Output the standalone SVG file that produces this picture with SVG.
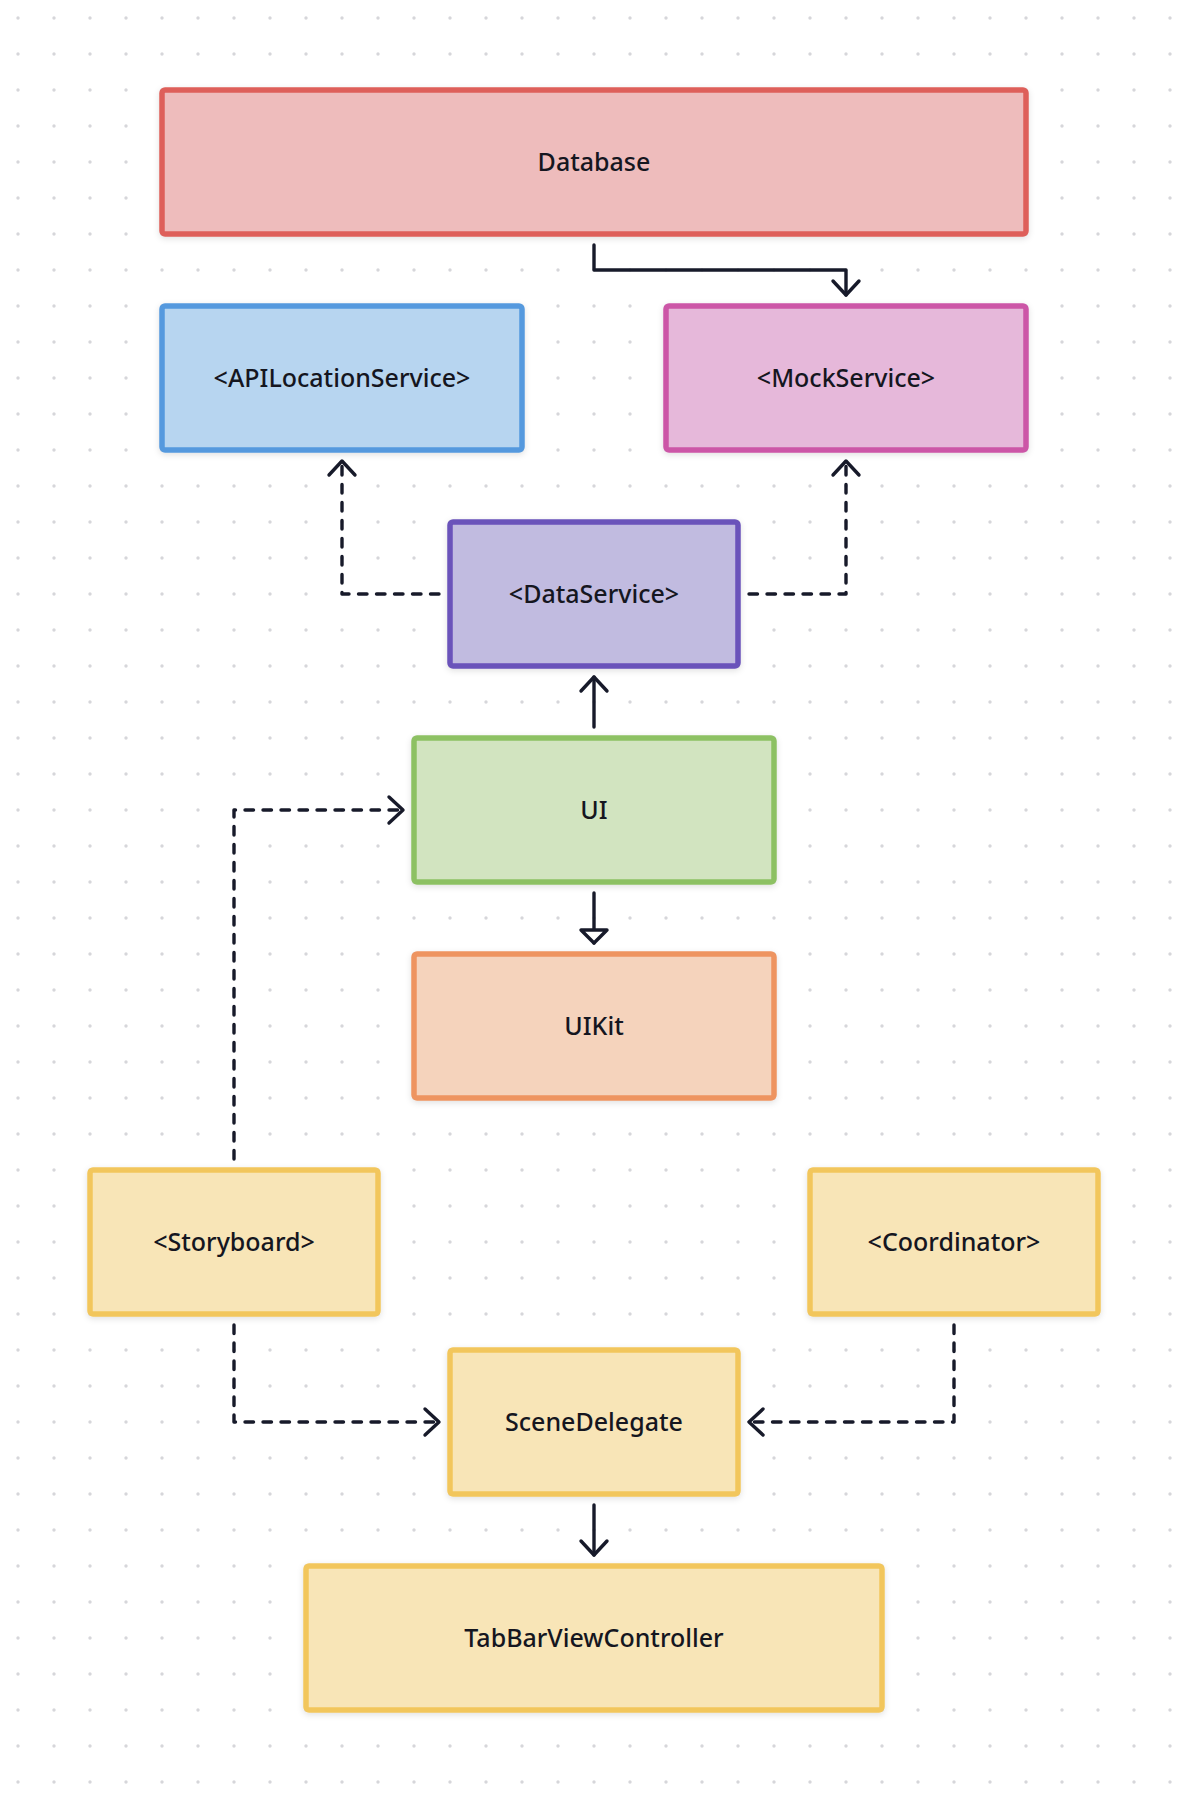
<svg xmlns="http://www.w3.org/2000/svg" width="1188" height="1800" viewBox="0 0 1188 1800">
  <defs>
    <pattern id="dots" x="0" y="0" width="36" height="36" patternUnits="userSpaceOnUse">
      <circle cx="18" cy="18" r="1.7" fill="#d6d6da"/>
    </pattern>
    <filter id="shadow" x="-10%" y="-10%" width="120%" height="130%">
      <feDropShadow dx="0" dy="2" stdDeviation="3" flood-color="#000000" flood-opacity="0.12"/>
    </filter>
    <marker id="arrow" markerUnits="userSpaceOnUse" viewBox="-20 -20 40 40" markerWidth="40" markerHeight="40" refX="0" refY="0" orient="auto" overflow="visible">
      <path d="M-14,-13 L0,0 L-14,13" fill="none" stroke="#171a2a" stroke-width="3.4" stroke-linecap="round" stroke-linejoin="round" stroke-dasharray="none"/>
    </marker>
    <marker id="triangle" markerUnits="userSpaceOnUse" viewBox="-20 -20 40 40" markerWidth="40" markerHeight="40" refX="0" refY="0" orient="auto" overflow="visible">
      <path d="M-13,-13 L0,0 L-13,13 Z" fill="#ffffff" stroke="#171a2a" stroke-width="3.4" stroke-linecap="round" stroke-linejoin="round" stroke-dasharray="none"/>
    </marker>
  </defs>
  <style>
    .node rect { stroke-width: 5.5; filter: url(#shadow); }
    .node text { font-family: "Noto Sans", "Open Sans", "Liberation Sans", sans-serif; font-size: 25px; font-weight: 500; fill: #15161f; text-anchor: middle; }
    .edge { fill: none; stroke: #171a2a; stroke-width: 3.4; stroke-linecap: round; stroke-linejoin: round; }
    .dashed { stroke-dasharray: 8.5 9.5; }
    .red rect { fill: #EEBCBC; stroke: #DE5F5A; }
    .blue rect { fill: #B7D5F0; stroke: #5499DE; }
    .pink rect { fill: #E6B8DA; stroke: #CC56A7; }
    .purple rect { fill: #C1BBE0; stroke: #6A52BA; }
    .green rect { fill: #D2E4C0; stroke: #8DC163; }
    .orange rect { fill: #F5D3BC; stroke: #EE9460; }
    .yellow rect { fill: #F8E5B7; stroke: #F2C65C; }
  </style>
  <rect x="0" y="0" width="1188" height="1800" fill="#ffffff"/>
  <rect x="0" y="0" width="1188" height="1800" fill="url(#dots)"/>

  <g id="connectors">
    <path class="edge" d="M594,245 V270 H846 V295" marker-end="url(#arrow)"/>
    <path class="edge dashed" d="M439,594 H342 V461" marker-end="url(#arrow)"/>
    <path class="edge dashed" d="M749,594 H846 V461" marker-end="url(#arrow)"/>
    <path class="edge" d="M594,727 V677" marker-end="url(#arrow)"/>
    <path class="edge dashed" d="M234,1159 V810 H403" marker-end="url(#arrow)"/>
    <path class="edge" d="M594,893 V943" marker-end="url(#triangle)"/>
    <path class="edge dashed" d="M234,1325 V1422 H439" marker-end="url(#arrow)"/>
    <path class="edge dashed" d="M954,1325 V1422 H749" marker-end="url(#arrow)"/>
    <path class="edge" d="M594,1505 V1555" marker-end="url(#arrow)"/>
  </g>

  <g id="database" class="node red">
    <rect x="162" y="90" width="864" height="144" rx="3"/>
    <text x="594" y="171">Database</text>
  </g>
  <g id="apilocationservice" class="node blue">
    <rect x="162" y="306" width="360" height="144" rx="3"/>
    <text x="342" y="387">&lt;APILocationService&gt;</text>
  </g>
  <g id="mockservice" class="node pink">
    <rect x="666" y="306" width="360" height="144" rx="3"/>
    <text x="846" y="387">&lt;MockService&gt;</text>
  </g>
  <g id="dataservice" class="node purple">
    <rect x="450" y="522" width="288" height="144" rx="3"/>
    <text x="594" y="603">&lt;DataService&gt;</text>
  </g>
  <g id="ui" class="node green">
    <rect x="414" y="738" width="360" height="144" rx="3"/>
    <text x="594" y="819">UI</text>
  </g>
  <g id="uikit" class="node orange">
    <rect x="414" y="954" width="360" height="144" rx="3"/>
    <text x="594" y="1035">UIKit</text>
  </g>
  <g id="storyboard" class="node yellow">
    <rect x="90" y="1170" width="288" height="144" rx="3"/>
    <text x="234" y="1251">&lt;Storyboard&gt;</text>
  </g>
  <g id="coordinator" class="node yellow">
    <rect x="810" y="1170" width="288" height="144" rx="3"/>
    <text x="954" y="1251">&lt;Coordinator&gt;</text>
  </g>
  <g id="scenedelegate" class="node yellow">
    <rect x="450" y="1350" width="288" height="144" rx="3"/>
    <text x="594" y="1431">SceneDelegate</text>
  </g>
  <g id="tabbarviewcontroller" class="node yellow">
    <rect x="306" y="1566" width="576" height="144" rx="3"/>
    <text x="594" y="1647">TabBarViewController</text>
  </g>
</svg>
